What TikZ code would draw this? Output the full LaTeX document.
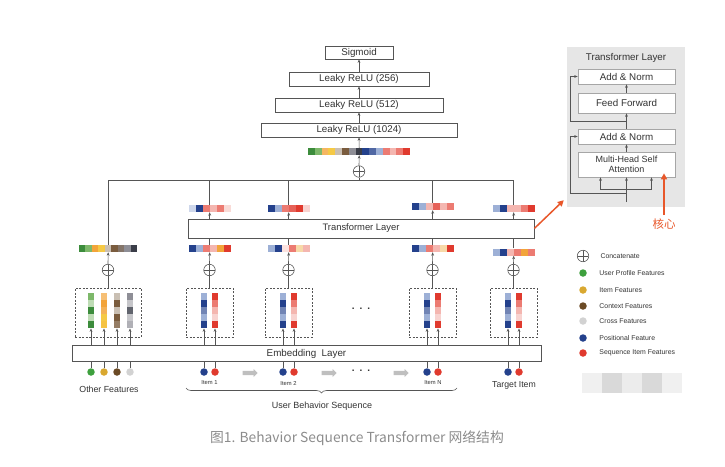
\documentclass[tikz,border=0pt]{standalone}
\usepackage{fontspec}
\setmainfont{Liberation Sans}
\newfontfamily\cjk{Noto Sans CJK SC}
\usepackage{xcolor}
\usetikzlibrary{arrows.meta, positioning, calc, shapes.arrows, decorations.pathreplacing}
\definecolor{DkGreen}{HTML}{3C8C3C}
\definecolor{LtGreen}{HTML}{7DB86A}
\definecolor{Orng}{HTML}{F2A43A}
\definecolor{Yllw}{HTML}{F5C945}
\definecolor{Beige}{HTML}{C9BFB3}
\definecolor{Brwn}{HTML}{7A5C3E}
\definecolor{Gry}{HTML}{8E8E96}
\definecolor{DkGry}{HTML}{3A3D48}
\definecolor{Navy}{HTML}{24418C}
\definecolor{LtBlue}{HTML}{9DB0D6}
\definecolor{Rd}{HTML}{E03A2E}
\definecolor{LtRed}{HTML}{EC7B72}
\definecolor{Pnk}{HTML}{F4B6B0}
\definecolor{PaleY}{HTML}{F7D9A8}
\definecolor{Accent}{HTML}{E8572A}
\definecolor{LineGry}{HTML}{555555}
\definecolor{PanelGry}{HTML}{E6E6E6}
\definecolor{TextGry}{HTML}{333333}
\definecolor{CapGry}{HTML}{8C8C8C}
\definecolor{LgGreen}{HTML}{3EA03E}
\definecolor{LgGold}{HTML}{D9A830}
\definecolor{LgBrown}{HTML}{6B4A25}
\definecolor{LgGrey}{HTML}{D2D2D2}

% horizontal strip of colour cells: name, left x, centre y, cell width, colours
\newcommand{\cellstrip}[5]{%
  \foreach \col [count=\i] in {#5}
    {\fill[\col] ({#2+(\i-1)*#4},{#3-3.5}) rectangle ++(#4,7); \xdef\ncells{\i}}
  \node[inner sep=0pt, minimum width={\ncells*#4}, minimum height=7, anchor=west] (#1) at ({#2},{#3}) {};
}
% vertical bar of colour cells: name, centre x, top y, colours (top to bottom)
\newcommand{\cellbar}[4]{%
  \foreach \col [count=\i] in {#4}
    {\fill[\col] ({#2-3},{#3-(\i-1)*7}) rectangle ++(6,-7); \xdef\ncells{\i}}
  \node[inner sep=0pt, minimum width=6, minimum height={\ncells*7}, anchor=north] (#1) at ({#2},{#3}) {};
}

\begin{document}
\begin{tikzpicture}[x=1pt, y=1pt,
    >={Stealth[length=3.5pt,width=2.8pt]},
    layer/.style={rectangle, draw=LineGry, fill=white, line width=0.6pt, inner sep=0pt,
                  text=TextGry, font=\fontsize{9.8}{11}\selectfont},
    dashbox/.style={rectangle, draw=LineGry, dash pattern=on 2pt off 1.5pt, line width=0.6pt,
                    minimum width=47, minimum height=49},
    oplus/.style={circle, draw=LineGry, line width=0.6pt, minimum size=11.5, inner sep=0pt,
                  path picture={\draw[LineGry, line width=0.6pt]
                    (path picture bounding box.north) -- (path picture bounding box.south)
                    (path picture bounding box.west) -- (path picture bounding box.east);}},
    dot/.style={circle, inner sep=0pt, minimum size=7.5},
    link/.style={draw=LineGry, line width=0.6pt},
    seqarrow/.style={single arrow, fill=gray!50, inner sep=2pt, minimum height=15,
                     single arrow head extend=1.8pt, single arrow head indent=0pt},
    legend/.style={font=\fontsize{6.9}{8}\selectfont, text=TextGry},
    tag/.style={font=\fontsize{5.8}{7}\selectfont, text=TextGry},
    caption/.style={font=\fontsize{8.8}{10}\selectfont, text=TextGry},
    accent/.style={draw=Accent, line width=1.5pt, -{Triangle[length=6pt,width=6pt]}}
]
    \useasboundingbox (0,0) rectangle (725,-466);

    % MLP head
    \node[layer, minimum width=68, minimum height=13] (sigmoid) at (359,-52.5) {Sigmoid};
    \node[layer, minimum width=140, minimum height=14] (relu256) at (359,-79) {Leaky ReLU (256)};
    \node[layer, minimum width=168, minimum height=14] (relu512) at (359,-105) {Leaky ReLU (512)};
    \node[layer, minimum width=196, minimum height=14] (relu1024) at (359,-130) {Leaky ReLU (1024)};
    \cellstrip{catvec}{308}{-151.5}{6.8}{DkGreen,LtGreen,Orng!80,Yllw,Beige,Brwn,Gry,DkGry,Navy,Navy!80,LtBlue,LtRed,Pnk,LtRed,Rd}
    \node[oplus] (catplus) at (359,-171.5) {};
    \coordinate (bus) at (359,-180);

    \draw[link,->] (catplus.north) -- (catvec.south);
    \draw[link,->] (catvec.north) -- (relu1024.south);
    \draw[link,->] (relu1024.north) -- (relu512.south);
    \draw[link,->] (relu512.north) -- (relu256.south);
    \draw[link,->] (relu256.north) -- (sigmoid.south);

    % Transformer and embedding layers
    \node[layer, minimum width=346, minimum height=19, font=\fontsize{9.4}{11}\selectfont] (trans) at (361,-228.5) {Transformer Layer};
    \node[layer, minimum width=469, minimum height=16] (emb) at (306.5,-353.5) {Embedding\ \ Layer};

    % Other features column
    \node[dashbox, minimum width=66] (of-box) at (108,-312.5) {};
    \node[oplus] (of-plus) at (108,-270) {};
    \cellstrip{of-in}{78.5}{-248.5}{6.55}{DkGreen,LtGreen,Orng,Yllw,Beige,Brwn,Brwn!50!Gry,Gry,DkGry}
    \cellbar{of-upbar}{91}{-293}{LtGreen,LtGreen!50,DkGreen,LtGreen!50,DkGreen}
    \cellbar{of-itbar}{104}{-293}{Orng!70,Orng,Orng!85,Yllw,Yllw!85!Orng}
    \cellbar{of-ctbar}{117}{-293}{Beige,Brwn,Beige,Brwn,Brwn!80}
    \cellbar{of-crbar}{130}{-293}{Gry,Gry!50,DkGry!80,Gry!50,Gry!70}
    \node[dot, fill=LgGreen] (of-up) at (91,-372) {};
    \node[dot, fill=LgGold] (of-it) at (104,-372) {};
    \node[dot, fill=LgBrown] (of-ct) at (117,-372) {};
    \node[dot, fill=LgGrey] (of-cr) at (130,-372) {};
    \foreach \f in {up,it,ct,cr} {
        \draw[link] (of-\f) -- (of-\f |- emb.south);
        \draw[link,->] (emb.north -| of-\f bar) -- (of-\f bar.south);
    }
    \draw[link] (of-box.north) -- (of-plus.south);
    \draw[link,->] (of-plus.north) -- (of-in.south);

    % Item columns
    \foreach \nm/\cx in {i1/209.5, i2/288.5, iN/432.5, tg/513.5} {
        \node[dashbox] (\nm-box) at (\cx,-312.5) {};
        \node[oplus] (\nm-plus) at (\cx,-270) {};
        \cellbar{\nm-posbar}{\cx-5.5}{-293}{LtBlue,Navy,Navy!65,LtBlue,Navy}
        \cellbar{\nm-seqbar}{\cx+5.5}{-293}{Rd,LtRed,Pnk,Pnk!60,Rd}
        \node[dot, fill=Navy] (\nm-pos) at (\cx-5.5,-372) {};
        \node[dot, fill=Rd] (\nm-seq) at (\cx+5.5,-372) {};
        \draw[link] (\nm-pos) -- (\nm-pos |- emb.south);
        \draw[link] (\nm-seq) -- (\nm-seq |- emb.south);
        \draw[link,->] (emb.north -| \nm-posbar) -- (\nm-posbar.south);
        \draw[link,->] (emb.north -| \nm-seqbar) -- (\nm-seqbar.south);
    }

    % Embedded sequence vectors, before and after the transformer
    \cellstrip{i1-in}{188.5}{-248.5}{7}{Navy,LtBlue,LtRed,Pnk,Orng,Rd}
    \cellstrip{i2-in}{267.5}{-248.5}{7}{LtBlue,Navy,Pnk!40,LtRed,PaleY,Pnk}
    \cellstrip{iN-in}{411.5}{-248.5}{7}{Navy,LtBlue,LtRed,Pnk,PaleY,Rd}
    \cellstrip{tg-in}{492.5}{-252}{7}{LtBlue,Navy,Pnk,LtRed,Orng,LtRed}
    \cellstrip{i1-out}{188.5}{-208.5}{7}{LtBlue!50,Navy,LtRed,Pnk,LtRed,Pnk!50}
    \cellstrip{i2-out}{267.5}{-208.5}{7}{Navy,LtBlue,LtRed,Rd!80,Rd,Pnk!60}
    \cellstrip{iN-out}{411.5}{-206.5}{7}{Navy,LtBlue,Pnk,Rd!80,Pnk,LtRed}
    \cellstrip{tg-out}{492.5}{-208.5}{7}{LtBlue,Navy,Pnk,Pnk,LtRed,Rd}

    \foreach \nm in {i1,i2,iN,tg} {
        \draw[link] (\nm-box.north) -- (\nm-plus.south);
        \draw[link,->] (\nm-plus.north) -- (\nm-in.south);
        \draw[link] (\nm-in.north) -- (\nm-in.north |- trans.south);
        \draw[link,->] (trans.north -| \nm-out) -- (\nm-out.south);
        \draw[link] (\nm-out.north) -- (\nm-out.north |- bus);
    }
    \draw[link] (of-in.north) |- (tg-out.north |- bus);
    \draw[link] (bus) -- (catplus.south);

    % Sequence labels
    \node[tag] (i1-lab) at (209.5,-383) {Item 1};
    \node[tag] (i2-lab) at (288.5,-383) {Item 2};
    \node[tag] (iN-lab) at (433,-383) {Item N};
    \node[caption, font=\fontsize{8.7}{10}\selectfont] (tg-lab) at (514,-385.5) {Target Item};
    \node[caption] (of-lab) at (109,-389) {Other Features};
    \node[seqarrow] (ga1) at (249,-373) {};
    \node[seqarrow] (ga2) at (328,-373) {};
    \node[seqarrow] (ga3) at (400,-373) {};
    \node[font=\fontsize{10}{11}\selectfont\bfseries, text=TextGry] (dots-b) at (361,-371) {.\hspace{5pt}.\hspace{5pt}.};
    \node[font=\fontsize{10}{11}\selectfont\bfseries, text=TextGry] (dots-m) at (361,-309) {.\hspace{5pt}.\hspace{5pt}.};
    \draw[link, decorate, decoration={brace, amplitude=5pt, mirror}] (186,-388) -- (457,-388);
    \node[caption, font=\fontsize{9}{10}\selectfont] (ubs) at (322,-406) {User Behavior Sequence};

    % Transformer layer detail
    \node[rectangle, fill=PanelGry, minimum width=118, minimum height=160, inner sep=0pt] (tpanel) at (626,-127) {};
    \node[text=TextGry, font=\fontsize{9.8}{11}\selectfont] (tp-title) at (626,-58) {Transformer Layer};
    \node[layer, draw=gray!70, minimum width=97, minimum height=15] (addnorm2) at (626.5,-76.5) {Add \& Norm};
    \node[layer, draw=gray!70, minimum width=97, minimum height=20] (ffwd) at (626.5,-103) {Feed Forward};
    \node[layer, draw=gray!70, minimum width=97, minimum height=15] (addnorm1) at (626.5,-136.5) {Add \& Norm};
    \node[layer, draw=gray!70, minimum width=97, minimum height=25, align=center,
          font=\fontsize{9}{10.5}\selectfont] (mhsa) at (626.5,-164.5) {Multi-Head Self\\Attention};
    \coordinate (tp-in) at (626.5,-202);
    \coordinate (tp-split) at (626.5,-189);
    \coordinate (tp-res1) at (626.5,-193);
    \coordinate (tp-res2) at (626.5,-121);
    \draw[link,->] (tp-in) -- (mhsa.south);
    \draw[link,->] (tp-split) -| ([xshift=-26]mhsa.south);
    \draw[link,->] (tp-split) -| ([xshift=25]mhsa.south);
    \draw[link,->] (mhsa.north) -- (addnorm1.south);
    \draw[link,->] (addnorm1.north) -- (ffwd.south);
    \draw[link,->] (ffwd.north) -- (addnorm2.south);
    \draw[link,->] (tp-res1) -| ([xshift=-7]addnorm1.west) -- (addnorm1.west);
    \draw[link,->] (tp-res2) -| ([xshift=-7]addnorm2.west) -- (addnorm2.west);

    % Highlights
    \draw[accent] (trans.east) -- ([shift={(-3,7)}]tpanel.south west);
    \node[text=Accent, font=\cjk\fontsize{11.5}{12}\selectfont] (core) at (664,-224) {核心};
    \draw[accent] (core.north) -- ([yshift=4]core.north |- mhsa.south);

    % Legend
    \node[oplus] (lg-cat) at (583,-256) {};
    \node[dot, fill=LgGreen] (lg-up) at (583,-273) {};
    \node[dot, fill=LgGold] (lg-it) at (583,-290) {};
    \node[dot, fill=LgBrown] (lg-ct) at (583,-306) {};
    \node[dot, fill=LgGrey] (lg-cr) at (583,-321) {};
    \node[dot, fill=Navy] (lg-pos) at (583,-338) {};
    \node[dot, fill=Rd] (lg-seq) at (583,-353) {};
    \node[legend, right=8pt of lg-cat] (lg-cat-t) {Concatenate};
    \node[legend, right=9pt of lg-up] (lg-up-t) {User Profile Features};
    \node[legend, right=9pt of lg-it] (lg-it-t) {Item Features};
    \node[legend, right=9pt of lg-ct] (lg-ct-t) {Context Features};
    \node[legend, right=9pt of lg-cr] (lg-cr-t) {Cross Features};
    \node[legend, right=9pt of lg-pos] (lg-pos-t) {Positional Feature};
    \node[legend, right=9pt of lg-seq] (lg-seq-t) {Sequence Item Features};

    % blurred patch
    \fill[gray!12] (582,-373) rectangle (602,-393);
    \fill[gray!30] (602,-373) rectangle (622,-393);
    \fill[gray!15] (622,-373) rectangle (642,-393);
    \fill[gray!30] (642,-373) rectangle (662,-393);
    \fill[gray!12] (662,-373) rectangle (682,-393);

    % Caption
    \node[text=CapGry, font=\cjk\fontsize{13.8}{15}\selectfont] (figcap) at (357,-438) {图1. Behavior Sequence Transformer 网络结构};
\end{tikzpicture}
\end{document}
